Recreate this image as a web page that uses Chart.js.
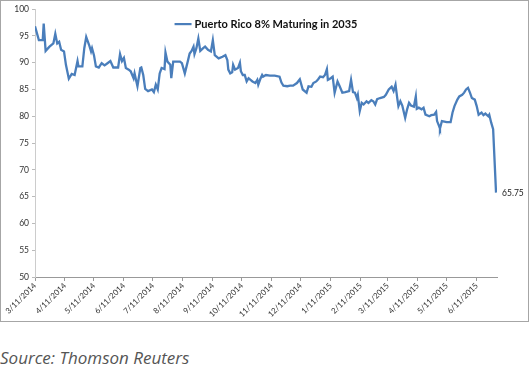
<!DOCTYPE html>
<html>
<head>
<meta charset="utf-8">
<script src="https://cdn.jsdelivr.net/npm/chart.js@4.4.1/dist/chart.umd.min.js"></script>
<style>
  body { margin: 0; background: #fff; }
  #box { position: absolute; left: 0; top: 0; width: 527px; height: 320px; border: 1px solid #a6a6a6; }
  #source { position: absolute; left: 0; top: 346px; font-family: "Open Sans", sans-serif; font-style: italic; font-size: 17px; color: #555; }
</style>
</head>
<body>
<div id="box"><canvas id="chart" width="527" height="320"></canvas></div>
<div id="source">Source: Thomson Reuters</div>
<script>
// days since 3/11/2014
const dayOffsets = [0, 4, 8, 9, 11, 15, 19, 21, 23, 25, 27, 30, 32, 35, 38, 41, 44, 45, 49, 51,
    53, 56, 58, 59, 61, 63, 66, 69, 72, 75, 78, 81, 86, 88, 90, 92, 94, 97, 99, 102,
    103, 106, 109, 110, 112, 114, 117, 121, 123, 125, 127, 129, 131, 134, 135, 137, 140, 141, 143, 147,
    150, 152, 155, 158, 160, 162, 164, 165, 167, 169, 171, 174, 176, 179, 182, 184, 186, 190, 194, 197,
    199, 200, 202, 204, 205, 207, 210, 212, 213, 215, 217, 219, 221, 223, 225, 228, 230, 231, 233, 235,
    236, 239, 243, 248, 253, 255, 257, 261, 264, 267, 271, 274, 277, 281, 283, 286, 288, 291, 293, 295,
    298, 300, 302, 303, 306, 308, 310, 313, 315, 318, 321, 325, 327, 329, 331, 333, 334, 336, 338, 340,
    343, 345, 348, 350, 352, 354, 357, 361, 363, 366, 369, 371, 373, 375, 376, 378, 380, 383, 385, 387,
    389, 392, 394, 395, 397, 400, 402, 404, 408, 410, 413, 415, 416, 418, 419, 421, 426, 430, 432, 434,
    437, 439, 442, 444, 446, 448, 450, 452, 455, 457, 459, 462, 464, 466, 469, 470, 472, 474, 477];
const prices = [96.8, 94.2, 94.2, 97.3, 92.2, 93.0, 93.6, 95.4, 93.6, 93.9, 92.4, 92.1, 89.6, 87.0, 87.9, 87.7, 90.3, 89.3, 89.3, 92.7,
    94.8, 93.3, 92.1, 92.7, 91.4, 89.3, 89.1, 89.9, 89.5, 89.9, 90.3, 89.1, 89.1, 91.6, 90.3, 90.9, 89.0, 88.7, 88.4, 87.1,
    88.0, 85.6, 89.0, 89.1, 87.7, 85.1, 84.7, 85.0, 84.5, 85.9, 85.0, 88.0, 89.0, 88.8, 91.9, 90.2, 89.6, 87.1, 90.2, 90.2,
    90.2, 89.9, 88.0, 90.2, 91.7, 92.2, 93.0, 91.6, 92.7, 94.5, 92.2, 92.7, 93.0, 92.4, 92.1, 94.2, 91.4, 90.8, 91.1, 91.4,
    90.5, 88.7, 88.0, 88.2, 89.6, 88.7, 89.0, 90.0, 88.4, 87.7, 87.7, 86.5, 87.1, 86.8, 86.5, 86.2, 86.8, 85.9, 86.9, 87.7,
    87.4, 87.7, 87.6, 87.6, 87.4, 86.3, 85.7, 85.6, 85.7, 85.7, 86.2, 86.9, 85.0, 84.4, 85.6, 85.5, 86.2, 86.5, 86.9, 87.4,
    87.3, 87.7, 88.8, 86.8, 87.1, 87.4, 84.4, 86.5, 85.7, 84.4, 84.5, 84.7, 86.8, 84.5, 84.4, 83.4, 84.0, 81.0, 82.5, 82.2,
    82.8, 82.5, 83.0, 82.8, 82.2, 83.2, 83.4, 83.6, 84.0, 85.0, 85.5, 84.7, 85.9, 83.1, 81.9, 82.8, 82.0, 79.7, 81.3, 82.5,
    82.0, 81.8, 83.7, 81.4, 81.6, 81.3, 81.6, 80.3, 80.0, 80.2, 80.3, 80.8, 79.1, 78.2, 77.7, 79.1, 78.9, 78.9, 80.7, 81.9,
    83.1, 83.7, 84.0, 84.4, 85.0, 85.3, 84.4, 83.4, 83.1, 81.9, 80.3, 80.7, 80.2, 80.5, 80.0, 80.3, 78.8, 77.6, 65.75];
const tickDays = [0, 31, 61, 92, 122, 153, 184, 214, 245, 275, 306, 337, 365, 396, 426, 457];
const tickLabels = ['3/11/2014', '4/11/2014', '5/11/2014', '6/11/2014', '7/11/2014', '8/11/2014',
    '9/11/2014', '10/11/2014', '11/11/2014', '12/11/2014', '1/11/2015', '2/11/2015',
    '3/11/2015', '4/11/2015', '5/11/2015', '6/11/2015'];
const seriesName = 'Puerto Rico 8% Maturing in 2035';
const lineColor = '#4a7ebb';

// legend drawn inside the plot, centred at the top
const innerLegend = {
    id: 'innerLegend',
    afterDraw(chart) {
        const ctx = chart.ctx;
        const area = chart.chartArea;
        ctx.save();
        ctx.font = 'bold 11px Lato';
        const w = ctx.measureText(seriesName).width;
        const total = 17 + 3 + w;
        const x0 = (area.left + area.right) / 2 - total / 2;
        const y = area.top + 15;
        ctx.strokeStyle = lineColor;
        ctx.lineWidth = 2.2;
        ctx.beginPath();
        ctx.moveTo(x0, y);
        ctx.lineTo(x0 + 17, y);
        ctx.stroke();
        ctx.fillStyle = '#111';
        ctx.textBaseline = 'middle';
        ctx.fillText(seriesName, x0 + 20, y);
        ctx.restore();
    }
};

// label next to the last point
const lastValueLabel = {
    id: 'lastValueLabel',
    afterDatasetsDraw(chart) {
        const pts = chart.getDatasetMeta(0).data;
        const p = pts[pts.length - 1];
        const ctx = chart.ctx;
        ctx.save();
        ctx.font = '8.5px Lato';
        ctx.fillStyle = '#222';
        ctx.textBaseline = 'middle';
        ctx.fillText(prices[prices.length - 1].toFixed(2), p.x + 6, p.y + 1);
        ctx.restore();
    }
};

new Chart(document.getElementById('chart'), {
    type: 'line',
    data: {
        datasets: [{
            label: seriesName,
            data: dayOffsets.map((d, i) => ({ x: d, y: prices[i] })),
            borderColor: lineColor,
            borderWidth: 2.3,
            pointRadius: 0,
            tension: 0,
            fill: false
        }]
    },
    options: {
        responsive: false,
        animation: false,
        layout: { padding: { top: 4, right: 31, left: 0, bottom: 0 } },
        plugins: {
            tooltip: { enabled: false },
            legend: { display: false }
        },
        scales: {
            x: {
                type: 'linear',
                min: 0,
                max: 478,
                afterBuildTicks: (scale) => { scale.ticks = tickDays.map(v => ({ value: v })); },
                afterFit: (scale) => { scale.height = 44; },
                ticks: {
                    autoSkip: false,
                    maxRotation: 45,
                    minRotation: 45,
                    padding: 0,
                    color: '#333',
                    font: { family: 'Lato', size: 8 },
                    callback: (v, i) => tickLabels[i]
                },
                grid: { drawOnChartArea: false, drawTicks: true, tickLength: 4, color: '#999' },
                border: { color: '#999' }
            },
            y: {
                min: 50,
                max: 100,
                afterFit: (scale) => { scale.width = 34; },
                ticks: {
                    stepSize: 5,
                    padding: 3,
                    color: '#333',
                    font: { family: 'Lato', size: 8.5 }
                },
                grid: { drawOnChartArea: false, drawTicks: true, tickLength: 3, color: '#bbb' },
                border: { color: '#ccc' }
            }
        }
    },
    plugins: [lastValueLabel, innerLegend]
});
</script>
</body>
</html>
